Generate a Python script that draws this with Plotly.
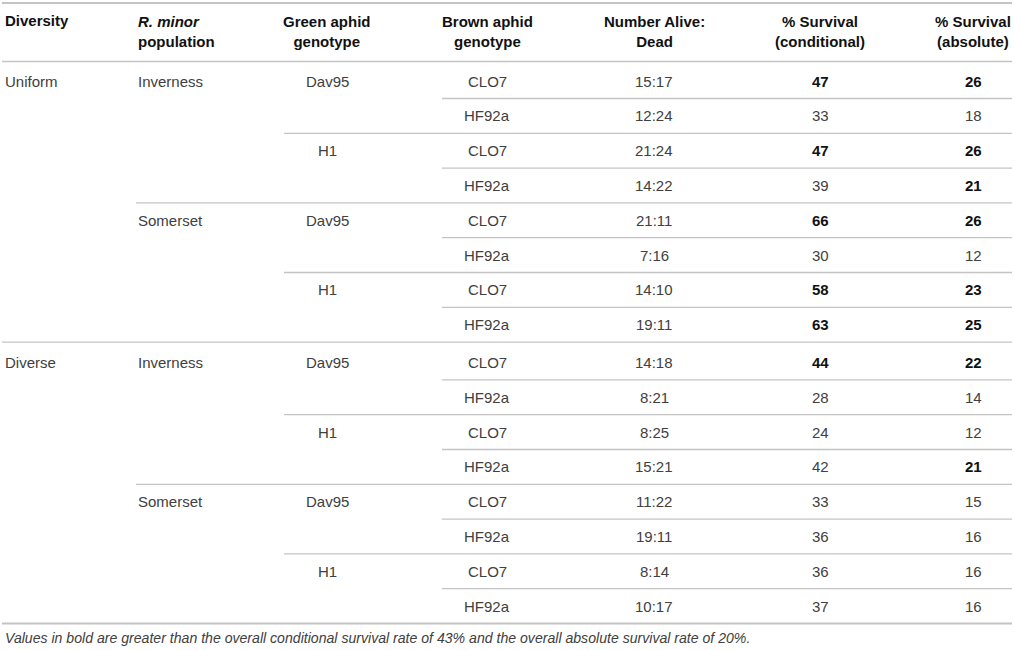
import plotly.graph_objects as go

# ---- data ----
headers = ["Diversity", "<i>R. minor</i><br>population", "Green aphid<br>genotype",
           "Brown aphid<br>genotype", "Number Alive:<br>Dead",
           "% Survival<br>(conditional)", "% Survival<br>(absolute)"]
diversity = ["Uniform", "", "", "", "", "", "", "", "Diverse", "", "", "", "", "", "", ""]
population = ["Inverness", "", "", "", "Somerset", "", "", "",
              "Inverness", "", "", "", "Somerset", "", "", ""]
green = ["Dav95", "", "H1", "", "Dav95", "", "H1", "",
         "Dav95", "", "H1", "", "Dav95", "", "H1", ""]
brown = ["CLO7", "HF92a"] * 8
alive_dead = ["15:17", "12:24", "21:24", "14:22", "21:11", "7:16", "14:10", "19:11",
              "14:18", "8:21", "8:25", "15:21", "11:22", "19:11", "8:14", "10:17"]
cond = [47, 33, 47, 39, 66, 30, 58, 63, 44, 28, 24, 42, 33, 36, 36, 37]
absol = [26, 18, 26, 21, 26, 12, 23, 25, 22, 14, 12, 21, 15, 16, 16, 16]
cond_threshold = 43
abs_threshold = 20
footnote = ("Values in bold are greater than the overall conditional survival rate of 43% "
            "and the overall absolute survival rate of 20%.")

# ---- layout constants ----
W, H = 1014, 650
col_x = [3, 136, 327, 487, 654, 820, 973]
col_anchor = ["left", "left", "center", "center", "center", "center", "center"]
header_y = 31
header_line1_y = 20
row0 = 81
row_h = 34.8
group_gap = 3
line_start = {"brown": 442, "green": 284, "pop": 136, "full": 2}
line_end = 1012
font_family = "Liberation Sans, Arial, sans-serif"
reg_color = "#404040"
bold_color = "#111111"
line_color = "#c4c4c4"

def row_y(i):
    return row0 + row_h * i + (group_gap if i >= 8 else 0)

annotations = []
shapes = []

# header
for j, h in enumerate(headers):
    two_lines = "<br>" in h
    annotations.append(dict(
        x=col_x[j], y=header_y if two_lines else header_line1_y,
        text="<b>" + h + "</b>", xref="x", yref="y",
        xanchor=col_anchor[j], yanchor="middle", align="center" if j > 1 else "left",
        showarrow=False, font=dict(family=font_family, size=15, color=bold_color)))

# body
n = len(brown)
for i in range(n):
    y = row_y(i)
    cells = [diversity[i], population[i], green[i], brown[i], alive_dead[i],
             str(cond[i]), str(absol[i])]
    bolds = [False] * 5 + [cond[i] > cond_threshold, absol[i] > abs_threshold]
    for j, c in enumerate(cells):
        if not c:
            continue
        annotations.append(dict(
            x=col_x[j], y=y, text=("<b>" + c + "</b>") if bolds[j] else c,
            xref="x", yref="y", xanchor=col_anchor[j], yanchor="middle",
            showarrow=False,
            font=dict(family=font_family, size=15,
                      color=bold_color if bolds[j] else reg_color)))
    # separator below row
    if i % 8 == 7:
        x0 = line_start["full"]
    elif i % 4 == 3:
        x0 = line_start["pop"]
    elif i % 2 == 1:
        x0 = line_start["green"]
    else:
        x0 = line_start["brown"]
    ly = y + 17.5
    shapes.append(dict(type="line", xref="x", yref="y", x0=x0, x1=line_end,
                       y0=ly, y1=ly, line=dict(color=line_color,
                                               width=2 if i == n - 1 else 1.3)))

# top and header lines
for ly, w in [(3, 2), (61.5, 1.5)]:
    shapes.append(dict(type="line", xref="x", yref="y", x0=line_start["full"], x1=line_end,
                       y0=ly, y1=ly, line=dict(color=line_color, width=w)))

annotations.append(dict(
    x=3, y=638, text="<i>" + footnote + "</i>", xref="x", yref="y",
    xanchor="left", yanchor="middle", showarrow=False,
    font=dict(family=font_family, size=14.1, color=reg_color)))

fig = go.Figure()
fig.update_layout(
    width=W, height=H, margin=dict(l=0, r=0, t=0, b=0),
    paper_bgcolor="white", plot_bgcolor="white",
    xaxis=dict(range=[0, W], visible=False, fixedrange=True),
    yaxis=dict(range=[H, 0], visible=False, fixedrange=True),
    annotations=annotations, shapes=shapes, showlegend=False,
)
fig.write_html("out.html", config={"displayModeBar": False, "staticPlot": True},
               post_script="document.body.style.margin='0';")
